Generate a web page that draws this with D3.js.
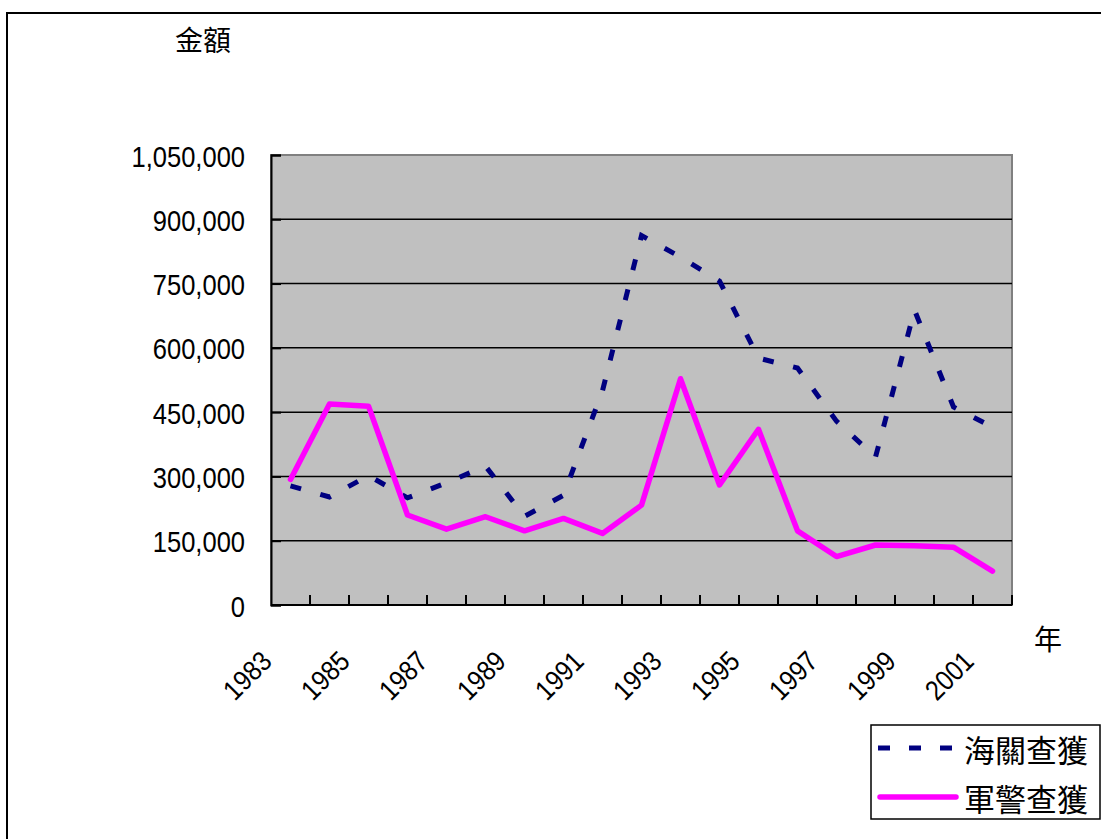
<!DOCTYPE html>
<html>
<head>
<meta charset="utf-8">
<script src="https://cdn.jsdelivr.net/npm/d3@7"></script>
<style>
  body { margin: 0; background: #fff; }
  text { font-family: Arial, "Liberation Sans", sans-serif; fill: #000; }
  .cjk { font-family: "Noto Sans CJK TC", "Noto Sans CJK SC", sans-serif; }
</style>
</head>
<body>
<script>
// 年份與兩條數列（數值由圖上讀出）
var years = d3.range(1983, 2002);
var customs = [278000, 252000, 302000, 250000, 285000, 324000, 207000, 256000, 500000, 862000,
               812000, 756000, 576000, 553000, 429000, 345000, 688000, 462000, 415000];
var military = [293000, 469000, 464000, 210000, 177000, 206000, 173000, 202000, 167000, 233000,
                528000, 280000, 410000, 173000, 113000, 140000, 138000, 135000, 79000];
var yTicks = d3.range(0, 1050001, 150000);
var yearLabels = years.filter(function(d){ return d % 2 === 1; });
var seriesNames = ["海關查獲", "軍警查獲"];

var width = 1101;
var height = 839;
var svg = d3.select("body")
    .append("svg")
    .attr("width", width)
    .attr("height", height);

svg.append("rect").attr("width", width).attr("height", height).attr("fill", "#fff");

// 外框
svg.append("rect")
    .attr("x", 7).attr("y", 13)
    .attr("width", 1120).attr("height", 860)
    .attr("fill", "none")
    .attr("stroke", "#000")
    .attr("stroke-width", 2);

var plotL = 271, plotR = 1012, plotT = 155, plotB = 605;

var x = d3.scaleBand().domain(years).range([plotL, plotR]);
var y = d3.scaleLinear().domain([0, 1050000]).range([plotB, plotT]);
var cx = function(d){ return x(d) + x.bandwidth() / 2; };

// 繪圖區
svg.append("rect")
    .attr("x", plotL).attr("y", plotT)
    .attr("width", plotR - plotL).attr("height", plotB - plotT)
    .attr("fill", "#C0C0C0")
    .attr("stroke", "#808080")
    .attr("stroke-width", 2);

svg.selectAll("line.grid")
    .data(yTicks.filter(function(d){ return d > 0 && d < 1050000; }))
    .enter()
    .append("line")
    .attr("class", "grid")
    .attr("x1", plotL).attr("x2", plotR)
    .attr("y1", function(d){ return y(d); })
    .attr("y2", function(d){ return y(d); })
    .style("stroke", "#000")
    .style("stroke-width", 1.5);

// y 軸
var yAxis = svg.append("g")
    .attr("transform", "translate(" + plotL + ",0)")
    .call(d3.axisLeft(y).tickValues(yTicks).tickFormat(d3.format(",")).tickSize(-10).tickPadding(0));
yAxis.select(".domain").attr("stroke", "#000").attr("stroke-width", 2);
yAxis.selectAll(".tick line").attr("stroke", "#000").attr("stroke-width", 2);
yAxis.selectAll(".tick text")
    .attr("x", null).attr("dy", null)
    .attr("transform", "translate(-26,11) scale(0.88,1)")
    .style("font-size", "29px")
    .style("font-family", "Arial, 'Liberation Sans', sans-serif")
    .attr("text-anchor", "end");

// x 軸
svg.append("line")
    .attr("x1", plotL).attr("x2", plotR)
    .attr("y1", plotB).attr("y2", plotB)
    .style("stroke", "#000").style("stroke-width", 2);

svg.selectAll("line.xtick")
    .data(years.slice(1).concat([null]))
    .enter()
    .append("line")
    .attr("class", "xtick")
    .attr("x1", function(d){ return d === null ? plotR : x(d); })
    .attr("x2", function(d){ return d === null ? plotR : x(d); })
    .attr("y1", plotB).attr("y2", plotB - 10)
    .style("stroke", "#000").style("stroke-width", 2);

svg.selectAll("text.year")
    .data(yearLabels)
    .enter()
    .append("text")
    .attr("class", "year")
    .attr("text-anchor", "end")
    .attr("transform", function(d){
        return "translate(" + (cx(d) - 17) + "," + 663 + ") rotate(-45) scale(0.88,1)";
    })
    .style("font-size", "28px")
    .text(function(d){ return d; });

// 數列
var line = d3.line()
    .x(function(d){ return cx(d.year); })
    .y(function(d){ return y(d.value); });

var toPoints = function(arr){
    return years.map(function(yr, i){ return {year: yr, value: arr[i]}; });
};

svg.append("path")
    .datum(toPoints(customs))
    .attr("d", line)
    .attr("fill", "none")
    .attr("stroke", "#000080")
    .attr("stroke-width", 5)
    .attr("stroke-dasharray", "11,20");

svg.append("path")
    .datum(toPoints(military))
    .attr("d", line)
    .attr("fill", "none")
    .attr("stroke", "#FF00FF")
    .attr("stroke-width", 5.5)
    .attr("stroke-linejoin", "round")
    .attr("stroke-linecap", "round");

// 軸標題
svg.append("text")
    .attr("class", "cjk")
    .attr("x", 175).attr("y", 51)
    .style("font-size", "28px")
    .text("金額");

svg.append("text")
    .attr("class", "cjk")
    .attr("x", 1048).attr("y", 650)
    .attr("text-anchor", "middle")
    .style("font-size", "28px")
    .text("年");

// 圖例
var legend = svg.append("g");
legend.append("rect")
    .attr("x", 871).attr("y", 725)
    .attr("width", 229).attr("height", 94)
    .attr("fill", "#fff")
    .attr("stroke", "#000")
    .attr("stroke-width", 1.5);

legend.append("line")
    .attr("x1", 878).attr("x2", 952)
    .attr("y1", 748).attr("y2", 748)
    .attr("stroke", "#000080")
    .attr("stroke-width", 5)
    .attr("stroke-dasharray", "12,19");

legend.append("line")
    .attr("x1", 880).attr("x2", 956)
    .attr("y1", 797).attr("y2", 797)
    .attr("stroke", "#FF00FF")
    .attr("stroke-width", 5.5)
    .attr("stroke-linecap", "round");

legend.selectAll("text.leg")
    .data(seriesNames)
    .enter()
    .append("text")
    .attr("class", "cjk leg")
    .attr("x", 964)
    .attr("y", function(d, i){ return 762 + i * 49; })
    .style("font-size", "31px")
    .text(function(d){ return d; });
</script>
</body>
</html>
